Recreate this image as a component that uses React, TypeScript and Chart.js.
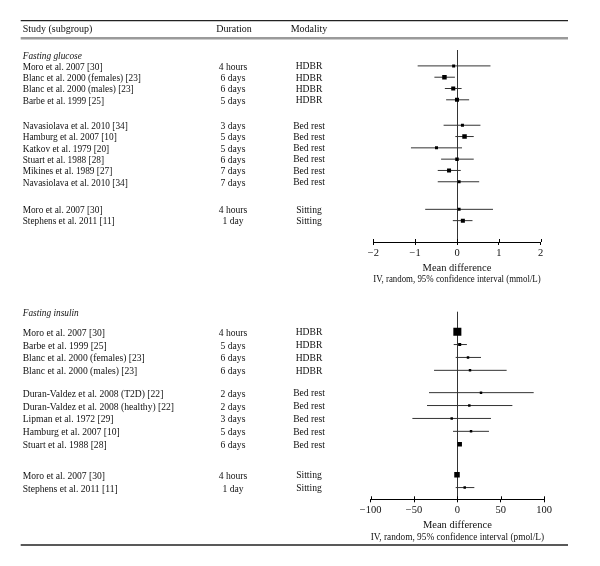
import React, { useEffect, useRef } from "react";
import { Chart, registerables } from "chart.js";

Chart.register(...registerables);

// ---------- Fasting glucose (mmol/L) ----------
const glucoseStudies = [
  "Moro et al. 2007 [30]",
  "Blanc et al. 2000 (females) [23]",
  "Blanc et al. 2000 (males) [23]",
  "Barbe et al. 1999 [25]",
  "Navasiolava et al. 2010 [34]",
  "Hamburg et al. 2007 [10]",
  "Katkov et al. 1979 [20]",
  "Stuart et al. 1988 [28]",
  "Mikines et al. 1989 [27]",
  "Navasiolava et al. 2010 [34]",
  "Moro et al. 2007 [30]",
  "Stephens et al. 2011 [11]",
];
const glucoseDurations = ["4 hours", "6 days", "6 days", "5 days", "3 days", "5 days", "5 days", "6 days", "7 days", "7 days", "4 hours", "1 day"];
const glucoseModalities = ["HDBR", "HDBR", "HDBR", "HDBR", "Bed rest", "Bed rest", "Bed rest", "Bed rest", "Bed rest", "Bed rest", "Sitting", "Sitting"];
const glucoseMean = [-0.08, -0.3, -0.09, 0.0, 0.13, 0.18, -0.49, 0.0, -0.19, 0.05, 0.05, 0.14];
const glucoseLower = [-0.94, -0.54, -0.29, -0.26, -0.32, -0.04, -1.1, -0.38, -0.46, -0.46, -0.76, -0.1];
const glucoseUpper = [0.8, -0.05, 0.11, 0.29, 0.56, 0.4, 0.12, 0.4, 0.09, 0.53, 0.86, 0.37];
const glucoseWeight = [4.5, 10, 8, 8, 4.5, 10, 4.5, 6, 8, 4.5, 4.5, 8];
const glucoseTicks = [-2, -1, 0, 1, 2];

// ---------- Fasting insulin (pmol/L) ----------
const insulinStudies = [
  "Moro et al. 2007 [30]",
  "Barbe et al. 1999 [25]",
  "Blanc et al. 2000 (females) [23]",
  "Blanc et al. 2000 (males) [23]",
  "Duran-Valdez et al. 2008 (T2D) [22]",
  "Duran-Valdez et al. 2008 (healthy) [22]",
  "Lipman et al. 1972 [29]",
  "Hamburg et al. 2007 [10]",
  "Stuart et al. 1988 [28]",
  "Moro et al. 2007 [30]",
  "Stephens et al. 2011 [11]",
];
const insulinDurations = ["4 hours", "5 days", "6 days", "6 days", "2 days", "2 days", "3 days", "5 days", "6 days", "4 hours", "1 day"];
const insulinModalities = ["HDBR", "HDBR", "HDBR", "HDBR", "Bed rest", "Bed rest", "Bed rest", "Bed rest", "Bed rest", "Sitting", "Sitting"];
const insulinMean = [0, 2.7, 12.3, 14.6, 27.3, 13.8, -6.5, 15.8, 2.7, -0.4, 8.5];
const insulinLower = [-3, -4.2, -1.9, -26.9, -32.7, -35, -51.9, -5, 1, -2.5, -1.9];
const insulinUpper = [3, 11, 27.3, 56.9, 88.1, 63.5, 38.8, 36.5, 4.5, 1.7, 19.6];
const insulinWeight = [32, 4.5, 3, 3, 3, 3, 3, 3, 10, 15, 3];
const insulinTicks = [-100, -50, 0, 50, 100];

const headerLabels = ["Study (subgroup)", "Duration", "Modality"];
const FONT = '"Liberation Serif", "Times New Roman", serif';

type Panel = {
  heading: string;
  studies: string[];
  durations: string[];
  modalities: string[];
  mean: number[];
  lower: number[];
  upper: number[];
  weight: number[];
  ticks: number[];
  axisTitle: string[];
  groupGaps: number[];
  headingPos: number;
  yMin: number;
  yMax: number;
  height: number;
  top: number;
  padTop: number;
  padLeft: number;
  padRight: number;
  axisHeight: number;
  titleLineHeight: number;
  titlePadBottom: number;
  textDy: number;
  studyFont: number;
  first: boolean;
};

const panels: Panel[] = [
  {
    heading: "Fasting glucose",
    studies: glucoseStudies,
    durations: glucoseDurations,
    modalities: glucoseModalities,
    mean: glucoseMean,
    lower: glucoseLower,
    upper: glucoseUpper,
    weight: glucoseWeight,
    ticks: glucoseTicks,
    axisTitle: ["Mean difference", "IV, random, 95% confidence interval (mmol/L)"],
    groupGaps: [1.25, 1.44],
    headingPos: -0.8,
    yMin: -1.407,
    yMax: 15.58,
    height: 290,
    top: 0,
    padTop: 50,
    padLeft: 373.3,
    padRight: 59.3,
    axisHeight: 48,
    titleLineHeight: 10.4,
    titlePadBottom: 6,
    textDy: 1.3,
    studyFont: 9.3,
    first: true,
  },
  {
    heading: "Fasting insulin",
    studies: insulinStudies,
    durations: insulinDurations,
    modalities: insulinModalities,
    mean: insulinMean,
    lower: insulinLower,
    upper: insulinUpper,
    weight: insulinWeight,
    ticks: insulinTicks,
    axisTitle: ["Mean difference", "IV, random, 95% confidence interval (pmol/L)"],
    groupGaps: [0.73, 1.36],
    headingPos: -1.37,
    yMin: -1.547,
    yMax: 13.0,
    height: 276,
    top: 290,
    padTop: 21.7,
    padLeft: 370.7,
    padRight: 56,
    axisHeight: 66.7,
    titleLineHeight: 12.7,
    titlePadBottom: 22,
    textDy: 1.5,
    studyFont: 9.6,
    first: false,
  },
];

function rowPositions(modalities: string[], gaps: number[]): number[] {
  let offset = 0;
  let g = 0;
  return modalities.map((m, i) => {
    if (i > 0 && m !== modalities[i - 1]) {
      offset += gaps[g] ?? 1;
      g++;
    }
    return i + offset;
  });
}

function fmtTick(v: number): string {
  return String(v).replace("-", "\u2212");
}

function makeConfig(p: Panel): any {
  const pos = rowPositions(p.modalities, p.groupGaps);
  const ciData: any[] = [];
  pos.forEach((y, i) => {
    ciData.push({ x: p.lower[i], y });
    ciData.push({ x: p.upper[i], y });
    ciData.push({ x: null, y: null });
  });
  const points = pos.map((y, i) => ({ x: p.mean[i], y }));
  const radii = p.weight.map((w) => (1.42 * Math.sqrt(w)) / 1.4142);
  const step = p.ticks[1] - p.ticks[0];

  const decor = {
    id: "forestDecor" + (p.first ? "1" : "2"),
    afterDraw(chart: any) {
      const ctx = chart.ctx;
      const ys = chart.scales.y;
      const xs = chart.scales.x;
      const area = chart.chartArea;
      ctx.save();
      // tick marks above the axis
      ctx.strokeStyle = "#000";
      ctx.lineWidth = 1;
      xs.ticks.forEach((t: any) => {
        const px = Math.round(xs.getPixelForValue(t.value)) + 0.5;
        ctx.beginPath();
        ctx.moveTo(px, area.bottom - 3);
        ctx.lineTo(px, area.bottom);
        ctx.stroke();
      });
      ctx.fillStyle = "#111";
      ctx.textBaseline = "middle";
      if (p.first) {
        // top rules and column header
        ctx.strokeStyle = "#222";
        ctx.lineWidth = 1.2;
        ctx.beginPath();
        ctx.moveTo(20.7, 20.7);
        ctx.lineTo(568, 20.7);
        ctx.stroke();
        ctx.strokeStyle = "#9a9a9a";
        ctx.lineWidth = 2.4;
        ctx.beginPath();
        ctx.moveTo(20.7, 38.3);
        ctx.lineTo(568, 38.3);
        ctx.stroke();
        ctx.font = `10px ${FONT}`;
        ctx.textAlign = "left";
        ctx.fillText(headerLabels[0], 22.7, 29.5);
        ctx.textAlign = "center";
        ctx.fillText(headerLabels[1], 234, 29.5);
        ctx.fillText(headerLabels[2], 309, 29.5);
      } else {
        ctx.strokeStyle = "#222";
        ctx.lineWidth = 1.3;
        ctx.beginPath();
        ctx.moveTo(20.7, 255);
        ctx.lineTo(568, 255);
        ctx.stroke();
      }
      // subgroup heading
      ctx.font = `italic 9.3px ${FONT}`;
      ctx.textAlign = "left";
      ctx.fillText(p.heading, 22.7, ys.getPixelForValue(p.headingPos));
      // rows
      pos.forEach((yv, i) => {
        const y = ys.getPixelForValue(yv) + p.textDy;
        ctx.font = `${p.studyFont}px ${FONT}`;
        ctx.textAlign = "left";
        ctx.fillText(p.studies[i], 22.7, y);
        ctx.font = `9.6px ${FONT}`;
        ctx.textAlign = "center";
        ctx.fillText(p.durations[i], 233, y);
        ctx.fillText(p.modalities[i], 309, y - 0.5);
      });
      ctx.restore();
    },
  };

  return {
    type: "scatter",
    data: {
      datasets: [
        {
          type: "line",
          data: ciData,
          showLine: true,
          spanGaps: false,
          borderColor: "#333",
          borderWidth: 1,
          pointRadius: 0,
          order: 2,
        },
        {
          type: "scatter",
          data: points,
          pointStyle: "rect",
          pointRadius: radii,
          backgroundColor: "#000",
          borderColor: "#000",
          borderWidth: 0,
          order: 1,
        },
      ],
    },
    options: {
      animation: false,
      responsive: false,
      events: [],
      layout: { padding: { left: p.padLeft, right: p.padRight, top: p.padTop, bottom: 0 } },
      plugins: { legend: { display: false }, tooltip: { enabled: false } },
      scales: {
        x: {
          type: "linear",
          min: p.ticks[0],
          max: p.ticks[p.ticks.length - 1],
          afterFit: (s: any) => {
            s.height = p.axisHeight;
          },
          ticks: {
            stepSize: step,
            callback: (v: any) => fmtTick(Number(v)),
            font: { family: FONT, size: 10.5 },
            color: "#111",
            padding: 2,
            maxRotation: 0,
            autoSkip: false,
          },
          grid: {
            color: (c: any) => (c.tick && c.tick.value === 0 ? "#333" : "rgba(0,0,0,0)"),
            tickColor: "#000",
            tickLength: 3,
            lineWidth: 1,
            drawTicks: true,
          },
          border: { display: true, color: "#000", width: 1 },
          title: {
            display: true,
            text: p.axisTitle,
            color: "#111",
            font: { family: FONT, size: 10.5, lineHeight: `${p.titleLineHeight}px` },
            padding: { top: 0, bottom: p.titlePadBottom },
          },
        },
        y: { type: "linear", display: false, reverse: true, min: p.yMin, max: p.yMax },
      },
    },
    plugins: [decor],
  };
}

function PanelChart({ panel }: { panel: Panel }) {
  const ref = useRef<HTMLCanvasElement | null>(null);
  useEffect(() => {
    if (!ref.current) return;
    const chart = new Chart(ref.current, makeConfig(panel));
    return () => chart.destroy();
  }, [panel]);
  return (
    <canvas
      ref={ref}
      width={600}
      height={panel.height}
      style={{ position: "absolute", left: 0, top: panel.top, width: 600, height: panel.height }}
    />
  );
}

export default function App() {
  useEffect(() => {
    document.body.style.margin = "0";
    document.body.style.background = "#fff";
  }, []);
  return (
    <div style={{ position: "relative", width: 600, height: 566, background: "#fff" }}>
      {panels.map((p, i) => (
        <PanelChart key={i} panel={p} />
      ))}
    </div>
  );
}
